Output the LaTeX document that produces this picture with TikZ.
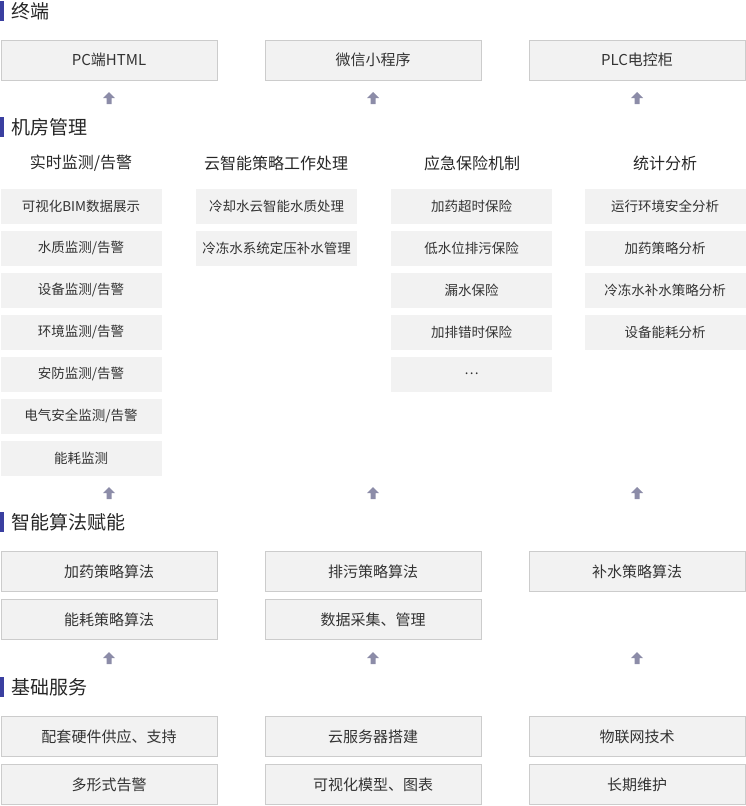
\documentclass[tikz,border=0pt]{standalone}
\usepackage{fontspec}
\setmainfont{Noto Sans CJK SC}
\definecolor{arr}{HTML}{8C8CA8}
\definecolor{barc}{HTML}{3A3FA0}
\begin{document}
\begin{tikzpicture}[x=1pt,y=-1pt,
  big/.style={draw=black!20,fill=black!5,minimum width=216pt,minimum height=40pt,inner sep=0pt,font=\fontsize{15}{17}\selectfont,text=black!80},
  sm/.style={fill=black!5,minimum width=161pt,minimum height=35pt,inner sep=0pt,font=\fontsize{13.5}{15}\selectfont,text=black!80},
  head/.style={anchor=west,font=\fontsize{19}{21}\selectfont,text=black!85},
  colh/.style={font=\fontsize{16}{18}\selectfont,text=black!85},
  bar/.style={fill=barc},
  up/.style={fill=arr}]
\useasboundingbox (0,0) rectangle (746,806);
\newcommand{\heading}[3]{\fill[bar] (0,#2-10) rectangle (4,#2+10); \node[head] (#3) at (8,#2) {#1};}
\newcommand{\uparr}[3]{\fill[up] (#1-2.5,#2+6) rectangle (#1+2.5,#2) (#1-6,#2) -- (#1,#2-6) -- (#1+6,#2) -- cycle; \coordinate (#3) at (#1,#2);}
\heading{终端}{11}{h1}
\node[big] (t1) at (109,60) {PC端HTML};
\node[big] (t2) at (373,60) {微信小程序};
\node[big] (t3) at (637,60) {PLC电控柜};
\uparr{109}{98}{a1}\uparr{373}{98}{a2}\uparr{637}{98}{a3}
\heading{机房管理}{127}{h2}
\node[colh] (c1) at (81,163) {实时监测/告警};
\node[colh] (c2) at (276,163) {云智能策略工作处理};
\node[colh] (c3) at (472,163) {应急保险机制};
\node[colh] (c4) at (665,163) {统计分析};
\foreach \t [count=\i] in {可视化BIM数据展示,水质监测/告警,设备监测/告警,环境监测/告警,安防监测/告警,电气安全监测/告警,能耗监测}
  \node[sm] (sa\i) at (81,164+42*\i) {\t};
\foreach \t [count=\i] in {冷却水云智能水质处理,冷冻水系统定压补水管理}
  \node[sm] (sb\i) at (276.5,164+42*\i) {\t};
\foreach \t [count=\i] in {加药超时保险,低水位排污保险,漏水保险,加排错时保险}
  \node[sm] (sc\i) at (471.5,164+42*\i) {\t};
\node[sm] (sc5) at (471.5,374) {\dots};
\foreach \t [count=\i] in {运行环境安全分析,加药策略分析,冷冻水补水策略分析,设备能耗分析}
  \node[sm] (sd\i) at (665,164+42*\i) {\t};
\uparr{109}{493}{a4}\uparr{373}{493}{a5}\uparr{637}{493}{a6}
\heading{智能算法赋能}{522}{h3}
\node[big] (g1) at (109,571.5) {加药策略算法};
\node[big] (g2) at (373,571.5) {排污策略算法};
\node[big] (g3) at (637,571.5) {补水策略算法};
\node[big] (g4) at (109,619.5) {能耗策略算法};
\node[big] (g5) at (373,619.5) {数据采集、管理};
\uparr{109}{658}{a7}\uparr{373}{658}{a8}\uparr{637}{658}{a9}
\heading{基础服务}{687}{h4}
\node[big] (b1) at (109,736.5) {配套硬件供应、支持};
\node[big] (b2) at (373,736.5) {云服务器搭建};
\node[big] (b3) at (637,736.5) {物联网技术};
\node[big] (b4) at (109,784.5) {多形式告警};
\node[big] (b5) at (373,784.5) {可视化模型、图表};
\node[big] (b6) at (637,784.5) {长期维护};
\end{tikzpicture}
\end{document}
